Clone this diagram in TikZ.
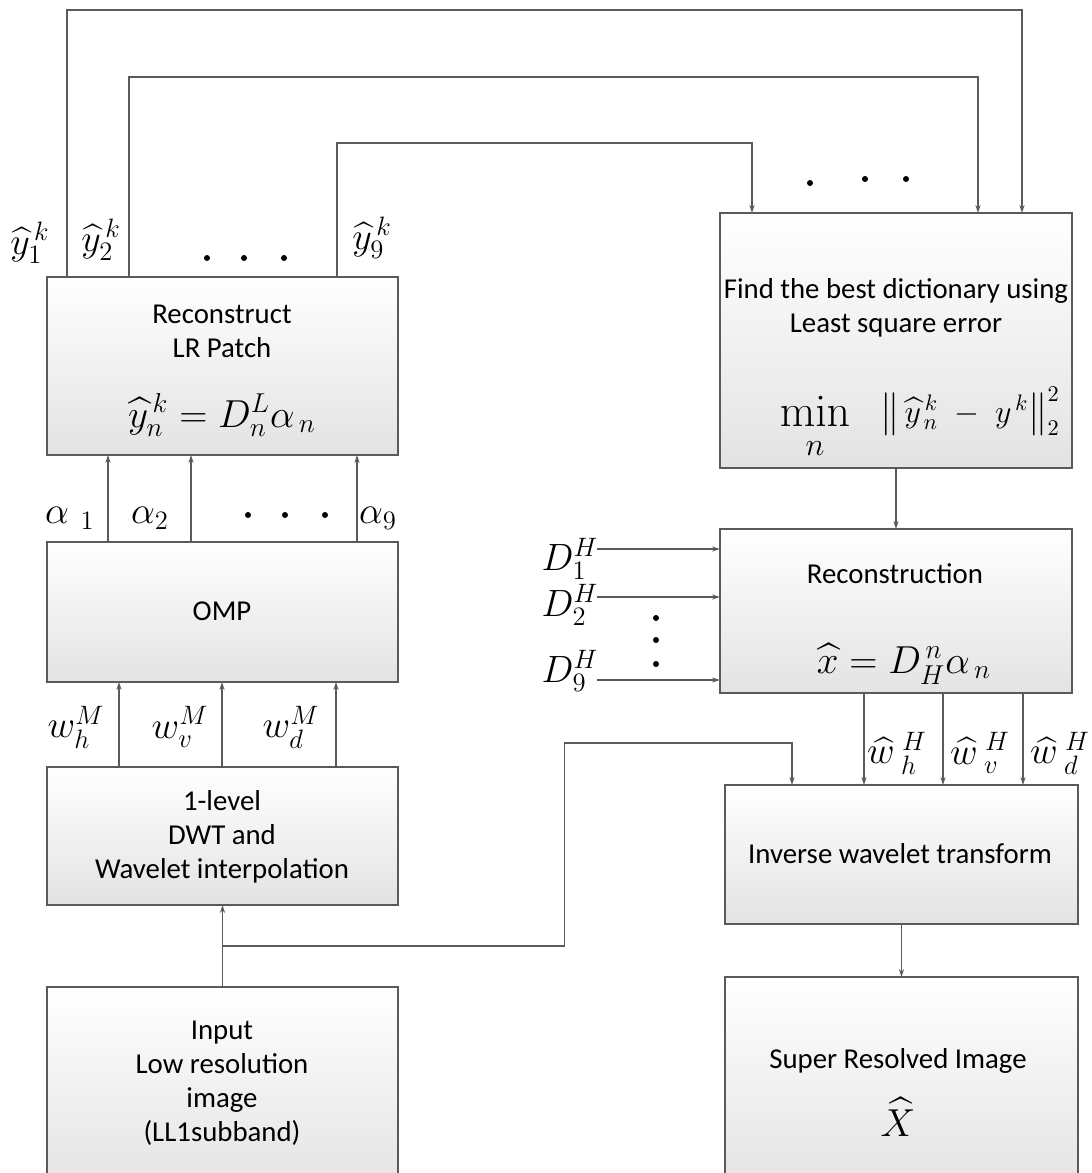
\RequirePackage{fix-cm}
\documentclass[tikz,border=0pt]{standalone}
\usepackage{amsmath}
\usepackage[no-math]{fontspec}
\setmainfont{Carlito}
\usetikzlibrary{arrows.meta,calc}

\definecolor{edge}{HTML}{5A5A5A}

\tikzset{
  box/.style={draw=edge, line width=0.7pt, top color=white, bottom color=black!11,
              inner sep=0pt, outer sep=0pt},
  txt/.style={font=\fontsize{14.4}{17}\selectfont, inner sep=0pt, anchor=base},
  eq/.style={font=\fontsize{19.5}{23}\selectfont, inner sep=0pt, anchor=base},
  lbl/.style={font=\fontsize{19}{22}\selectfont, inner sep=0pt},
  link/.style={draw=edge, line width=0.7pt},
  arr/.style={link, -{Stealth[length=4pt,width=2.6pt]}},
  dot/.style={circle, fill=black, inner sep=0pt, minimum size=3pt},
}

\begin{document}
\begin{tikzpicture}[x=0.5pt, y=-0.5pt]
  \useasboundingbox (0,0) rectangle (1092,1173);
  \fill[white] (0,0) rectangle (1092,1173);
  \begin{scope}
  \clip (0,0) rectangle (1092,1173);

  % ---------- left column ----------
  \node[box, minimum width=175.5pt, minimum height=89pt]  (rec) at (222.5,366)  {};
  \node[box, minimum width=175.5pt, minimum height=70pt]  (omp) at (222.5,612)  {};
  \node[box, minimum width=175.5pt, minimum height=69pt]  (dwt) at (222.5,836)  {};
  \node[box, minimum width=175.5pt, minimum height=101.5pt] (inp) at (222.5,1088.5) {};

  % ---------- right column ----------
  \node[box, minimum width=176pt, minimum height=127.5pt] (find) at (896,340.5) {};
  \node[box, minimum width=176pt, minimum height=82pt]    (rcn)  at (896,611)   {};
  \node[box, minimum width=176.5pt, minimum height=69.5pt] (inv) at (901.5,854.5) {};
  \node[box, minimum width=176.5pt, minimum height=106.5pt] (sup) at (901.5,1083.5) {};

  % ---------- box texts ----------
  \node[txt] (recA) at (222,323) {Reconstruct};
  \node[txt] (recB) at (222,357) {LR Patch};
  \node[eq]  (recF) at (222,427) {$\widehat{y}_n^{\,k} = D_n^L\alpha_{\,n}$};

  \node[txt] (ompA) at (222,620) {OMP};

  \node[txt] (dwtA) at (222,810) {1-level};
  \node[txt] (dwtB) at (222,844) {DWT and};
  \node[txt] (dwtC) at (222,878) {Wavelet interpolation};

  \node[txt] (inpA) at (222,1039) {Input};
  \node[txt] (inpB) at (222,1073) {Low resolution};
  \node[txt] (inpC) at (222,1107) {image};
  \node[txt] (inpD) at (222,1141) {(LL1subband)};

  \node[txt] (findA) at (896,298) {Find the best dictionary using};
  \node[txt] (findB) at (896,332) {Least square error};
  \node[eq, font=\fontsize{23}{26}\selectfont] (findM) at (815,426) {$\min\limits_{n}$};
  \node[eq, font=\fontsize{16}{19}\selectfont] (findN) at (970,422)
       {$\left\|\,\widehat{y}_{\,n}^{\,k} \;-\; y^{\,k}\right\|_2^2$};

  \node[txt] (rcnA) at (895,583) {Reconstruction};
  \node[eq]  (rcnF) at (904,673) {$\widehat{x} = D_H^{\,n}\alpha_{\,n}$};

  \node[txt] (invA) at (900,863) {Inverse wavelet transform};

  \node[txt] (supA) at (898,1068) {Super Resolved Image};
  \node[eq]  (supF) at (898,1136) {$\widehat{X}$};

  % ---------- feedback loops from the patch outputs ----------
  \draw[arr] ($(rec.north west)+(20,0)$)  -- ++(0,-267) -| ($(find.north west)+(302,0)$);
  \draw[arr] ($(rec.north west)+(82,0)$)  -- ++(0,-200) -| ($(find.north west)+(258,0)$);
  \draw[arr] ($(rec.north west)+(290,0)$) -- ++(0,-134) -| ($(find.north west)+(32,0)$);

  \node[lbl] (y1) at (30,243)  {$\widehat{y}_1^{\,k}$};
  \node[lbl] (y2) at (101,240) {$\widehat{y}_2^{\,k}$};
  \node[lbl] (y9) at (372,238) {$\widehat{y}_9^{\,k}$};
  \node[dot] (ya) at (207,258) {};
  \node[dot] (yb) at (244,258) {};
  \node[dot] (yc) at (284,258) {};

  \node[dot] (fa) at (810,183) {};
  \node[dot] (fb) at (865,179) {};
  \node[dot] (fc) at (906,179) {};

  % ---------- sparse codes ----------
  \foreach \dx in {61,144,310}
    \draw[arr] ($(omp.north west)+(\dx,0)$) -- ($(rec.south west)+(\dx,0)$);
  \node[lbl] (a1) at (70,518)  {$\alpha_{\;\,1}$};
  \node[lbl] (a2) at (150,518) {$\alpha_2$};
  \node[lbl] (a9) at (378,518) {$\alpha_9$};
  \node[dot] (aa) at (248,515) {};
  \node[dot] (ab) at (285,515) {};
  \node[dot] (ac) at (325,515) {};

  % ---------- wavelet subbands ----------
  \foreach \dx in {72,175,289}
    \draw[arr] ($(dwt.north west)+(\dx,0)$) -- ($(omp.south west)+(\dx,0)$);
  \node[lbl] (wh) at (76,727)  {$w_h^M$};
  \node[lbl] (wv) at (180,727) {$w_v^M$};
  \node[lbl] (wd) at (291,727) {$w_d^M$};

  % ---------- input ----------
  \draw[arr] (inp.north) -- (dwt.south);
  \coordinate (j) at ($(inp.north)+(0,-41)$);
  \draw[arr] (j) -- ++(342,0) -- ++(0,-203) -| ($(inv.north west)+(67,0)$);

  % ---------- dictionary selection and reconstruction ----------
  \draw[arr] (find.south) -- (rcn.north);

  \coordinate (s1) at (597,549);
  \coordinate (s2) at (597,597);
  \coordinate (s9) at (597,680);
  \draw[arr] (s1) -- (s1 -| rcn.west);
  \draw[arr] (s2) -- (s2 -| rcn.west);
  \draw[arr] (s9) -- (s9 -| rcn.west);
  \node[lbl] (D1) at (570,559) {$D_1^H$};
  \node[lbl] (D2) at (570,605) {$D_2^H$};
  \node[lbl] (D9) at (570,671) {$D_9^H$};
  \node[dot] (va) at (656,618) {};
  \node[dot] (vb) at (656,640) {};
  \node[dot] (vc) at (656,664) {};

  \foreach \dx in {144,223,303}
    \draw[arr] ($(rcn.south west)+(\dx,0)$) coordinate (p) -- (p |- inv.north);
  \node[lbl] (whh) at (897,753)  {$\widehat{w}^{\;H}_{\;h}$};
  \node[lbl] (wvh) at (980,753)  {$\widehat{w}^{\;H}_{\;v}$};
  \node[lbl] (wdh) at (1060,753) {$\widehat{w}^{\;H}_{\;d}$};

  \draw[arr] (inv.south) -- (sup.north);
  \end{scope}
\end{tikzpicture}
\end{document}
